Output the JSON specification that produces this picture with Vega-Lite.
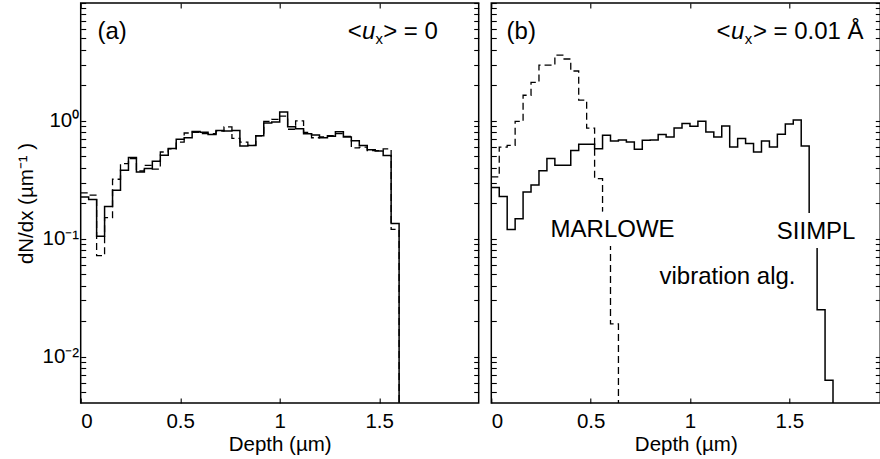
{
  "$schema": "https://vega.github.io/schema/vega-lite/v6.json",
  "background": "white",
  "padding": {"left": 14.7, "top": 1, "right": 0, "bottom": 0},
  "config": {
    "font": "Liberation Sans",
    "view": {"stroke": "black", "strokeWidth": 1.5},
    "axis": {
      "grid": false, "domain": false, "tickColor": "black", "tickWidth": 1.1, "tickSize": -5,
      "labelColor": "black", "titleColor": "black", "labelFont": "Liberation Sans", "titleFont": "Liberation Sans",
      "labelFontSize": 20.5, "titleFontSize": 20.5, "titleFontWeight": "normal"
    },
    "text": {"font": "Liberation Sans", "fontSize": 24, "color": "black"}
  },
  "datasets": {
    "profiles": [
      {"panel": "a", "series": "SIIMPL", "depth": 0.00, "value": 0.226},
      {"panel": "a", "series": "SIIMPL", "depth": 0.04, "value": 0.215},
      {"panel": "a", "series": "SIIMPL", "depth": 0.08, "value": 0.105},
      {"panel": "a", "series": "SIIMPL", "depth": 0.12, "value": 0.188},
      {"panel": "a", "series": "SIIMPL", "depth": 0.16, "value": 0.258},
      {"panel": "a", "series": "SIIMPL", "depth": 0.20, "value": 0.381},
      {"panel": "a", "series": "SIIMPL", "depth": 0.24, "value": 0.489},
      {"panel": "a", "series": "SIIMPL", "depth": 0.28, "value": 0.369},
      {"panel": "a", "series": "SIIMPL", "depth": 0.32, "value": 0.394},
      {"panel": "a", "series": "SIIMPL", "depth": 0.36, "value": 0.455},
      {"panel": "a", "series": "SIIMPL", "depth": 0.40, "value": 0.511},
      {"panel": "a", "series": "SIIMPL", "depth": 0.44, "value": 0.582},
      {"panel": "a", "series": "SIIMPL", "depth": 0.48, "value": 0.70},
      {"panel": "a", "series": "SIIMPL", "depth": 0.52, "value": 0.72},
      {"panel": "a", "series": "SIIMPL", "depth": 0.56, "value": 0.815},
      {"panel": "a", "series": "SIIMPL", "depth": 0.60, "value": 0.80},
      {"panel": "a", "series": "SIIMPL", "depth": 0.64, "value": 0.766},
      {"panel": "a", "series": "SIIMPL", "depth": 0.68, "value": 0.83},
      {"panel": "a", "series": "SIIMPL", "depth": 0.72, "value": 0.82},
      {"panel": "a", "series": "SIIMPL", "depth": 0.76, "value": 0.83},
      {"panel": "a", "series": "SIIMPL", "depth": 0.80, "value": 0.613},
      {"panel": "a", "series": "SIIMPL", "depth": 0.84, "value": 0.62},
      {"panel": "a", "series": "SIIMPL", "depth": 0.88, "value": 0.75},
      {"panel": "a", "series": "SIIMPL", "depth": 0.92, "value": 0.96},
      {"panel": "a", "series": "SIIMPL", "depth": 0.96, "value": 0.98},
      {"panel": "a", "series": "SIIMPL", "depth": 1.00, "value": 1.19},
      {"panel": "a", "series": "SIIMPL", "depth": 1.04, "value": 0.89},
      {"panel": "a", "series": "SIIMPL", "depth": 1.08, "value": 0.86},
      {"panel": "a", "series": "SIIMPL", "depth": 1.12, "value": 0.78},
      {"panel": "a", "series": "SIIMPL", "depth": 1.16, "value": 0.76},
      {"panel": "a", "series": "SIIMPL", "depth": 1.20, "value": 0.72},
      {"panel": "a", "series": "SIIMPL", "depth": 1.24, "value": 0.74},
      {"panel": "a", "series": "SIIMPL", "depth": 1.28, "value": 0.81},
      {"panel": "a", "series": "SIIMPL", "depth": 1.32, "value": 0.73},
      {"panel": "a", "series": "SIIMPL", "depth": 1.36, "value": 0.68},
      {"panel": "a", "series": "SIIMPL", "depth": 1.40, "value": 0.62},
      {"panel": "a", "series": "SIIMPL", "depth": 1.44, "value": 0.57},
      {"panel": "a", "series": "SIIMPL", "depth": 1.48, "value": 0.555},
      {"panel": "a", "series": "SIIMPL", "depth": 1.52, "value": 0.51},
      {"panel": "a", "series": "SIIMPL", "depth": 1.56, "value": 0.135},
      {"panel": "a", "series": "SIIMPL", "depth": 1.60, "value": 0.0001},
      {"panel": "a", "series": "MARLOWE", "depth": 0.00, "value": 0.245},
      {"panel": "a", "series": "MARLOWE", "depth": 0.04, "value": 0.235},
      {"panel": "a", "series": "MARLOWE", "depth": 0.08, "value": 0.072},
      {"panel": "a", "series": "MARLOWE", "depth": 0.12, "value": 0.151},
      {"panel": "a", "series": "MARLOWE", "depth": 0.16, "value": 0.32},
      {"panel": "a", "series": "MARLOWE", "depth": 0.20, "value": 0.434},
      {"panel": "a", "series": "MARLOWE", "depth": 0.24, "value": 0.48},
      {"panel": "a", "series": "MARLOWE", "depth": 0.28, "value": 0.376},
      {"panel": "a", "series": "MARLOWE", "depth": 0.32, "value": 0.42},
      {"panel": "a", "series": "MARLOWE", "depth": 0.36, "value": 0.39},
      {"panel": "a", "series": "MARLOWE", "depth": 0.40, "value": 0.545},
      {"panel": "a", "series": "MARLOWE", "depth": 0.44, "value": 0.58},
      {"panel": "a", "series": "MARLOWE", "depth": 0.48, "value": 0.66},
      {"panel": "a", "series": "MARLOWE", "depth": 0.52, "value": 0.79},
      {"panel": "a", "series": "MARLOWE", "depth": 0.56, "value": 0.80},
      {"panel": "a", "series": "MARLOWE", "depth": 0.60, "value": 0.78},
      {"panel": "a", "series": "MARLOWE", "depth": 0.64, "value": 0.78},
      {"panel": "a", "series": "MARLOWE", "depth": 0.68, "value": 0.82},
      {"panel": "a", "series": "MARLOWE", "depth": 0.72, "value": 0.89},
      {"panel": "a", "series": "MARLOWE", "depth": 0.76, "value": 0.71},
      {"panel": "a", "series": "MARLOWE", "depth": 0.80, "value": 0.66},
      {"panel": "a", "series": "MARLOWE", "depth": 0.84, "value": 0.62},
      {"panel": "a", "series": "MARLOWE", "depth": 0.88, "value": 0.746},
      {"panel": "a", "series": "MARLOWE", "depth": 0.92, "value": 0.99},
      {"panel": "a", "series": "MARLOWE", "depth": 0.96, "value": 1.03},
      {"panel": "a", "series": "MARLOWE", "depth": 1.00, "value": 1.10},
      {"panel": "a", "series": "MARLOWE", "depth": 1.04, "value": 0.85},
      {"panel": "a", "series": "MARLOWE", "depth": 1.08, "value": 1.0},
      {"panel": "a", "series": "MARLOWE", "depth": 1.12, "value": 0.80},
      {"panel": "a", "series": "MARLOWE", "depth": 1.16, "value": 0.72},
      {"panel": "a", "series": "MARLOWE", "depth": 1.20, "value": 0.73},
      {"panel": "a", "series": "MARLOWE", "depth": 1.24, "value": 0.75},
      {"panel": "a", "series": "MARLOWE", "depth": 1.28, "value": 0.78},
      {"panel": "a", "series": "MARLOWE", "depth": 1.32, "value": 0.74},
      {"panel": "a", "series": "MARLOWE", "depth": 1.36, "value": 0.59},
      {"panel": "a", "series": "MARLOWE", "depth": 1.40, "value": 0.60},
      {"panel": "a", "series": "MARLOWE", "depth": 1.44, "value": 0.56},
      {"panel": "a", "series": "MARLOWE", "depth": 1.48, "value": 0.56},
      {"panel": "a", "series": "MARLOWE", "depth": 1.52, "value": 0.58},
      {"panel": "a", "series": "MARLOWE", "depth": 1.56, "value": 0.12},
      {"panel": "a", "series": "MARLOWE", "depth": 1.60, "value": 0.0001},
      {"panel": "b", "series": "SIIMPL", "depth": 0.00, "value": 0.272},
      {"panel": "b", "series": "SIIMPL", "depth": 0.04, "value": 0.229},
      {"panel": "b", "series": "SIIMPL", "depth": 0.08, "value": 0.12},
      {"panel": "b", "series": "SIIMPL", "depth": 0.12, "value": 0.148},
      {"panel": "b", "series": "SIIMPL", "depth": 0.16, "value": 0.249},
      {"panel": "b", "series": "SIIMPL", "depth": 0.20, "value": 0.286},
      {"panel": "b", "series": "SIIMPL", "depth": 0.24, "value": 0.378},
      {"panel": "b", "series": "SIIMPL", "depth": 0.28, "value": 0.48},
      {"panel": "b", "series": "SIIMPL", "depth": 0.32, "value": 0.42},
      {"panel": "b", "series": "SIIMPL", "depth": 0.36, "value": 0.42},
      {"panel": "b", "series": "SIIMPL", "depth": 0.40, "value": 0.56},
      {"panel": "b", "series": "SIIMPL", "depth": 0.44, "value": 0.634},
      {"panel": "b", "series": "SIIMPL", "depth": 0.48, "value": 0.634},
      {"panel": "b", "series": "SIIMPL", "depth": 0.52, "value": 0.58},
      {"panel": "b", "series": "SIIMPL", "depth": 0.56, "value": 0.756},
      {"panel": "b", "series": "SIIMPL", "depth": 0.60, "value": 0.676},
      {"panel": "b", "series": "SIIMPL", "depth": 0.64, "value": 0.69},
      {"panel": "b", "series": "SIIMPL", "depth": 0.68, "value": 0.663},
      {"panel": "b", "series": "SIIMPL", "depth": 0.72, "value": 0.575},
      {"panel": "b", "series": "SIIMPL", "depth": 0.76, "value": 0.686},
      {"panel": "b", "series": "SIIMPL", "depth": 0.80, "value": 0.69},
      {"panel": "b", "series": "SIIMPL", "depth": 0.84, "value": 0.766},
      {"panel": "b", "series": "SIIMPL", "depth": 0.88, "value": 0.73},
      {"panel": "b", "series": "SIIMPL", "depth": 0.92, "value": 0.872},
      {"panel": "b", "series": "SIIMPL", "depth": 0.96, "value": 0.95},
      {"panel": "b", "series": "SIIMPL", "depth": 1.00, "value": 0.90},
      {"panel": "b", "series": "SIIMPL", "depth": 1.04, "value": 0.994},
      {"panel": "b", "series": "SIIMPL", "depth": 1.08, "value": 0.806},
      {"panel": "b", "series": "SIIMPL", "depth": 1.12, "value": 0.73},
      {"panel": "b", "series": "SIIMPL", "depth": 1.16, "value": 0.906},
      {"panel": "b", "series": "SIIMPL", "depth": 1.20, "value": 0.60},
      {"panel": "b", "series": "SIIMPL", "depth": 1.24, "value": 0.71},
      {"panel": "b", "series": "SIIMPL", "depth": 1.28, "value": 0.643},
      {"panel": "b", "series": "SIIMPL", "depth": 1.32, "value": 0.545},
      {"panel": "b", "series": "SIIMPL", "depth": 1.36, "value": 0.676},
      {"panel": "b", "series": "SIIMPL", "depth": 1.40, "value": 0.60},
      {"panel": "b", "series": "SIIMPL", "depth": 1.44, "value": 0.77},
      {"panel": "b", "series": "SIIMPL", "depth": 1.48, "value": 0.94},
      {"panel": "b", "series": "SIIMPL", "depth": 1.52, "value": 1.02},
      {"panel": "b", "series": "SIIMPL", "depth": 1.56, "value": 0.613},
      {"panel": "b", "series": "SIIMPL", "depth": 1.60, "value": 0.11},
      {"panel": "b", "series": "SIIMPL", "depth": 1.64, "value": 0.025},
      {"panel": "b", "series": "SIIMPL", "depth": 1.68, "value": 0.0063},
      {"panel": "b", "series": "SIIMPL", "depth": 1.72, "value": 0.0001},
      {"panel": "b", "series": "MARLOWE", "depth": 0.00, "value": 0.335},
      {"panel": "b", "series": "MARLOWE", "depth": 0.04, "value": 0.60},
      {"panel": "b", "series": "MARLOWE", "depth": 0.08, "value": 0.62},
      {"panel": "b", "series": "MARLOWE", "depth": 0.12, "value": 0.99},
      {"panel": "b", "series": "MARLOWE", "depth": 0.16, "value": 1.65},
      {"panel": "b", "series": "MARLOWE", "depth": 0.20, "value": 2.12},
      {"panel": "b", "series": "MARLOWE", "depth": 0.24, "value": 2.97},
      {"panel": "b", "series": "MARLOWE", "depth": 0.28, "value": 2.97},
      {"panel": "b", "series": "MARLOWE", "depth": 0.32, "value": 3.62},
      {"panel": "b", "series": "MARLOWE", "depth": 0.36, "value": 3.35},
      {"panel": "b", "series": "MARLOWE", "depth": 0.40, "value": 2.65},
      {"panel": "b", "series": "MARLOWE", "depth": 0.44, "value": 1.5},
      {"panel": "b", "series": "MARLOWE", "depth": 0.48, "value": 0.87},
      {"panel": "b", "series": "MARLOWE", "depth": 0.52, "value": 0.324},
      {"panel": "b", "series": "MARLOWE", "depth": 0.56, "value": 0.11},
      {"panel": "b", "series": "MARLOWE", "depth": 0.60, "value": 0.019},
      {"panel": "b", "series": "MARLOWE", "depth": 0.64, "value": 0.0001}
    ]
  },
  "spacing": 8.6,
  "hconcat": [
    {
      "width": 398,
      "height": 400,
      "resolve": {"axis": {"x": "independent", "y": "independent"}},
      "layer": [
        {
          "data": {"name": "profiles"},
          "transform": [{"filter": "datum.panel == 'a' && datum.series == 'SIIMPL'"}],
          "mark": {"type": "line", "interpolate": "step-after", "color": "black", "strokeWidth": 1.5, "clip": true},
          "encoding": {
            "x": {"field": "depth", "type": "quantitative", "scale": {"domain": [0, 2], "nice": false, "zero": false},
                  "axis": {"orient": "bottom", "values": [0, 0.5, 1, 1.5], "format": "~g", "title": "Depth (µm)", "labelPadding": 14, "titlePadding": 2}},
            "y": {"field": "value", "type": "quantitative", "scale": {"type": "log", "domain": [0.00405, 10], "nice": false},
                  "axis": {"orient": "left", "title": "dN/dx (µm⁻¹ )", "titlePadding": 6, "labelPadding": 7,
                           "values": [0.004,0.005,0.006,0.007,0.008,0.009,0.01,0.02,0.03,0.04,0.05,0.06,0.07,0.08,0.09,0.1,0.2,0.3,0.4,0.5,0.6,0.7,0.8,0.9,1,2,3,4,5,6,7,8,9,10],
                           "labelExpr": "datum.value == 1 ? '10⁰' : datum.value == 0.1 ? '10⁻¹' : datum.value == 0.01 ? '10⁻²' : ''"}}
          }
        },
        {
          "data": {"name": "profiles"},
          "transform": [{"filter": "datum.panel == 'a' && datum.series == 'MARLOWE'"}],
          "mark": {"type": "line", "interpolate": "step-after", "color": "black", "strokeWidth": 1.3, "strokeDash": [7, 4], "clip": true},
          "encoding": {
            "x": {"field": "depth", "type": "quantitative", "axis": {"orient": "top", "values": [0, 0.5, 1, 1.5], "labels": false, "title": null}},
            "y": {"field": "value", "type": "quantitative",
                  "axis": {"orient": "right", "labels": false, "title": null,
                           "values": [0.004,0.005,0.006,0.007,0.008,0.009,0.01,0.02,0.03,0.04,0.05,0.06,0.07,0.08,0.09,0.1,0.2,0.3,0.4,0.5,0.6,0.7,0.8,0.9,1,2,3,4,5,6,7,8,9,10]}}
          }
        },
        {
          "data": {"values": [
            {"t": "(a)", "depth": 0.084, "value": 5.67},
            {"t": "<", "depth": 1.3415, "value": 5.67},
            {"t": "> = 0", "depth": 1.52, "value": 5.67}
          ]},
          "mark": {"type": "text", "align": "left", "baseline": "middle"},
          "encoding": {
            "x": {"field": "depth", "type": "quantitative", "axis": null},
            "y": {"field": "value", "type": "quantitative", "axis": null},
            "text": {"field": "t"}
          }
        },
        {
          "data": {"values": [{"t": "u", "depth": 1.414, "value": 5.67}]},
          "mark": {"type": "text", "align": "left", "baseline": "middle", "fontStyle": "italic"},
          "encoding": {
            "x": {"field": "depth", "type": "quantitative", "axis": null},
            "y": {"field": "value", "type": "quantitative", "axis": null},
            "text": {"field": "t"}
          }
        },
        {
          "data": {"values": [{"t": "x", "depth": 1.481, "value": 4.95}]},
          "mark": {"type": "text", "align": "left", "baseline": "middle", "fontSize": 15},
          "encoding": {
            "x": {"field": "depth", "type": "quantitative", "axis": null},
            "y": {"field": "value", "type": "quantitative", "axis": null},
            "text": {"field": "t"}
          }
        }
      ]
    },
    {
      "width": 389,
      "height": 400,
      "resolve": {"axis": {"x": "independent", "y": "independent"}},
      "layer": [
        {
          "data": {"name": "profiles"},
          "transform": [{"filter": "datum.panel == 'b' && datum.series == 'SIIMPL'"}],
          "mark": {"type": "line", "interpolate": "step-after", "color": "black", "strokeWidth": 1.5, "clip": true},
          "encoding": {
            "x": {"field": "depth", "type": "quantitative", "scale": {"domain": [0, 1.958], "nice": false, "zero": false},
                  "axis": {"orient": "bottom", "values": [0, 0.5, 1, 1.5], "format": "~g", "title": "Depth (µm)", "labelPadding": 14, "titlePadding": 2}},
            "y": {"field": "value", "type": "quantitative", "scale": {"type": "log", "domain": [0.00405, 10], "nice": false},
                  "axis": {"orient": "left", "labels": false, "title": null,
                           "values": [0.004,0.005,0.006,0.007,0.008,0.009,0.01,0.02,0.03,0.04,0.05,0.06,0.07,0.08,0.09,0.1,0.2,0.3,0.4,0.5,0.6,0.7,0.8,0.9,1,2,3,4,5,6,7,8,9,10]}}
          }
        },
        {
          "data": {"name": "profiles"},
          "transform": [{"filter": "datum.panel == 'b' && datum.series == 'MARLOWE'"}],
          "mark": {"type": "line", "interpolate": "step-after", "color": "black", "strokeWidth": 1.3, "strokeDash": [7, 4], "clip": true},
          "encoding": {
            "x": {"field": "depth", "type": "quantitative", "axis": {"orient": "top", "values": [0, 0.5, 1, 1.5], "labels": false, "title": null}},
            "y": {"field": "value", "type": "quantitative",
                  "axis": {"orient": "right", "labels": false, "title": null,
                           "values": [0.004,0.005,0.006,0.007,0.008,0.009,0.01,0.02,0.03,0.04,0.05,0.06,0.07,0.08,0.09,0.1,0.2,0.3,0.4,0.5,0.6,0.7,0.8,0.9,1,2,3,4,5,6,7,8,9,10]}}
          }
        },
        {
          "data": {"values": [
            {"t": "MARLOWE", "depth": 0.6105, "value": 0.1177},
            {"t": "SIIMPL", "depth": 1.635, "value": 0.114}
          ]},
          "mark": {"type": "text", "align": "center", "baseline": "middle", "fill": "white", "stroke": "white", "strokeWidth": 18, "strokeJoin": "round"},
          "encoding": {
            "x": {"field": "depth", "type": "quantitative", "axis": null},
            "y": {"field": "value", "type": "quantitative", "axis": null},
            "text": {"field": "t"}
          }
        },
        {
          "data": {"values": [
            {"t": "MARLOWE", "depth": 0.6105, "value": 0.1177},
            {"t": "SIIMPL", "depth": 1.635, "value": 0.114},
            {"t": "vibration alg.", "depth": 1.189, "value": 0.0477}
          ]},
          "mark": {"type": "text", "align": "center", "baseline": "middle"},
          "encoding": {
            "x": {"field": "depth", "type": "quantitative", "axis": null},
            "y": {"field": "value", "type": "quantitative", "axis": null},
            "text": {"field": "t"}
          }
        },
        {
          "data": {"values": [
            {"t": "(b)", "depth": 0.077, "value": 5.67},
            {"t": "<", "depth": 1.134, "value": 5.67},
            {"t": "> = 0.01 Å", "depth": 1.317, "value": 5.67}
          ]},
          "mark": {"type": "text", "align": "left", "baseline": "middle"},
          "encoding": {
            "x": {"field": "depth", "type": "quantitative", "axis": null},
            "y": {"field": "value", "type": "quantitative", "axis": null},
            "text": {"field": "t"}
          }
        },
        {
          "data": {"values": [{"t": "u", "depth": 1.207, "value": 5.67}]},
          "mark": {"type": "text", "align": "left", "baseline": "middle", "fontStyle": "italic"},
          "encoding": {
            "x": {"field": "depth", "type": "quantitative", "axis": null},
            "y": {"field": "value", "type": "quantitative", "axis": null},
            "text": {"field": "t"}
          }
        },
        {
          "data": {"values": [{"t": "x", "depth": 1.276, "value": 4.95}]},
          "mark": {"type": "text", "align": "left", "baseline": "middle", "fontSize": 15},
          "encoding": {
            "x": {"field": "depth", "type": "quantitative", "axis": null},
            "y": {"field": "value", "type": "quantitative", "axis": null},
            "text": {"field": "t"}
          }
        }
      ]
    }
  ]
}
